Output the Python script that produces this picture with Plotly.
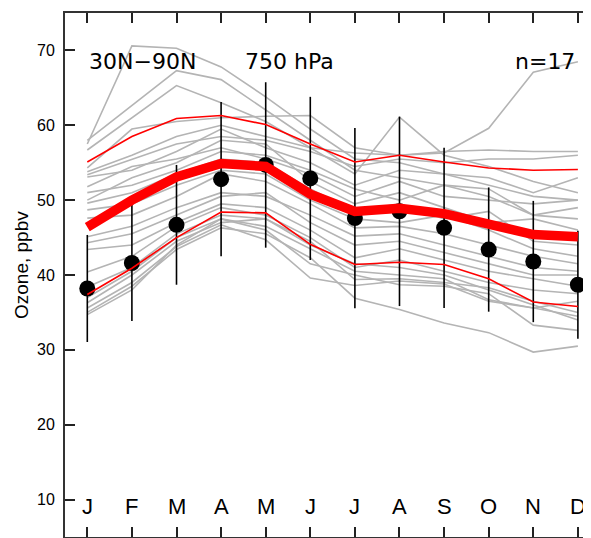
import plotly.graph_objects as go

months = ["J", "F", "M", "A", "M", "J", "J", "A", "S", "O", "N", "D"]
month_idx = list(range(12))

# observed climatology (black dots) and its spread (vertical bars)
obs_mean = [38.2, 41.6, 46.7, 52.8, 54.7, 52.9, 47.6, 48.5, 46.3, 43.4, 41.8, 38.7]
obs_sd = [7.15, 7.75, 8.0, 10.3, 11.05, 10.9, 12.05, 12.65, 10.7, 8.3, 8.1, 7.2]

# model ensemble mean (thick red) and range (thin red)
model_mean = [46.4, 50.0, 53.1, 54.9, 54.5, 50.8, 48.5, 48.9, 48.2, 46.9, 45.4, 45.1]
model_upper = [55.1, 58.5, 60.9, 61.3, 60.1, 57.5, 55.1, 56.0, 55.1, 54.3, 54.0, 54.1]
model_lower = [37.4, 40.9, 45.0, 48.4, 48.3, 44.1, 41.4, 41.7, 41.4, 39.5, 36.4, 35.8]

# individual curves (grey)
model_01 = [57.5, 70.6, 70.3, 67.8, 63.8, 59.5, 55.5, 55.0, 53.5, 52.0, 50.5, 50.0]
model_02 = [58.0, 62.7, 67.3, 66.1, 62.0, 58.0, 54.0, 53.0, 52.0, 50.5, 48.0, 47.5]
model_03 = [56.7, 61.0, 65.3, 63.0, 60.5, 57.0, 53.5, 61.1, 56.0, 54.5, 52.5, 51.0]
model_04 = [54.3, 59.5, 60.5, 61.0, 61.2, 61.3, 57.0, 56.0, 56.3, 59.6, 67.1, 68.5]
model_05 = [53.8, 56.0, 58.5, 60.0, 58.5, 57.0, 56.3, 56.0, 56.5, 56.7, 56.5, 56.5]
model_06 = [53.4, 55.5, 57.5, 58.5, 58.0, 56.5, 54.5, 55.5, 55.0, 55.5, 55.5, 56.0]
model_07 = [53.1, 54.0, 56.5, 59.5, 57.0, 55.0, 52.0, 54.0, 53.5, 53.0, 51.0, 53.0]
model_08 = [51.8, 54.5, 55.5, 57.0, 55.5, 53.5, 50.5, 52.5, 50.5, 50.0, 49.5, 50.0]
model_09 = [51.0, 52.0, 54.0, 56.5, 56.0, 54.0, 51.5, 50.0, 52.0, 51.5, 48.0, 49.0]
model_10 = [50.0, 53.0, 55.0, 58.0, 57.5, 52.5, 49.5, 51.0, 49.0, 47.0, 47.5, 46.0]
model_11 = [49.6, 51.0, 53.5, 55.5, 55.0, 51.5, 48.5, 49.5, 47.5, 48.5, 44.5, 44.0]
model_12 = [48.7, 49.5, 52.0, 54.0, 53.5, 50.0, 47.5, 47.0, 48.0, 46.0, 43.5, 42.5]
model_13 = [47.6, 48.0, 50.5, 53.5, 52.5, 49.5, 46.3, 46.5, 45.5, 44.0, 42.5, 41.5]
model_14 = [45.1, 46.5, 49.0, 51.0, 50.5, 48.0, 45.2, 45.5, 44.0, 42.5, 41.0, 40.5]
model_15 = [44.3, 45.5, 48.0, 50.5, 51.0, 47.0, 44.0, 44.5, 43.0, 41.5, 40.0, 40.0]
model_16 = [43.4, 44.0, 47.0, 49.5, 49.0, 46.0, 42.3, 43.5, 42.0, 40.5, 39.5, 38.5]
model_17 = [40.4, 42.5, 46.5, 49.0, 48.0, 45.0, 41.0, 42.0, 40.5, 39.0, 38.0, 37.5]
model_18 = [38.4, 41.0, 45.5, 48.0, 47.5, 44.5, 39.4, 39.5, 39.0, 38.3, 36.5, 35.0]
model_19 = [37.0, 40.5, 45.0, 47.5, 46.5, 43.5, 40.5, 40.0, 39.5, 36.7, 35.6, 34.5]
model_20 = [36.3, 40.0, 44.5, 47.0, 47.5, 44.0, 41.5, 41.0, 40.0, 38.0, 36.0, 34.0]
model_21 = [35.6, 39.0, 43.8, 46.7, 44.7, 39.6, 38.6, 39.2, 38.8, 36.5, 35.6, 36.5]
model_22 = [35.0, 38.5, 43.4, 46.3, 45.5, 42.3, 36.9, 35.4, 33.6, 32.3, 29.7, 30.5]
model_23 = [34.7, 38.0, 44.0, 47.5, 46.0, 41.5, 40.0, 38.7, 38.5, 37.5, 33.3, 32.6]

grey_curves = [model_01, model_02, model_03, model_04, model_05, model_06,
               model_07, model_08, model_09, model_10, model_11, model_12,
               model_13, model_14, model_15, model_16, model_17, model_18,
               model_19, model_20, model_21, model_22, model_23]

y_ticks = [10, 20, 30, 40, 50, 60, 70]

fig = go.Figure()

for curve in grey_curves:
    fig.add_trace(go.Scatter(x=month_idx, y=curve, mode="lines",
                             line=dict(color="#b4b4b4", width=1.6),
                             hoverinfo="skip", showlegend=False))

fig.add_trace(go.Scatter(x=month_idx, y=obs_mean, mode="markers",
                         marker=dict(color="black", size=16),
                         error_y=dict(type="data", array=obs_sd, visible=True,
                                      color="black", thickness=1.6, width=0),
                         showlegend=False))

for band in (model_upper, model_lower):
    fig.add_trace(go.Scatter(x=month_idx, y=band, mode="lines",
                             line=dict(color="#ff0000", width=1.6),
                             showlegend=False))

fig.add_trace(go.Scatter(x=month_idx, y=model_mean, mode="lines",
                         line=dict(color="#ff0000", width=9.5),
                         showlegend=False))

# dummy trace for the right-hand tick axis
fig.add_trace(go.Scatter(x=[None], y=[None], yaxis="y2", showlegend=False,
                         hoverinfo="skip"))

ann = []
for i, m in enumerate(months):
    ann.append(dict(x=i, y=9.1, xref="x", yref="y", text=m, showarrow=False,
                    font=dict(family="Liberation Sans", size=22, color="black"),
                    xanchor="center", yanchor="middle"))

ann.append(dict(x=0, y=68.5, xref="x", yref="y", text="30N\u221290N",
                showarrow=False, xanchor="left", yanchor="middle",
                font=dict(family="DejaVu Sans", size=22, color="black")))
ann.append(dict(x=3.49, y=68.5, xref="x", yref="y", text="750 hPa",
                showarrow=False, xanchor="left", yanchor="middle",
                font=dict(family="DejaVu Sans", size=22, color="black")))
ann.append(dict(x=10.98, y=68.5, xref="x", yref="y", text="n=17",
                showarrow=False, xanchor="right", yanchor="middle",
                font=dict(family="DejaVu Sans", size=22, color="black")))
ann.append(dict(x=-0.0837, y=0.519, xref="paper", yref="paper",
                text="Ozone, ppbv", textangle=-90, showarrow=False,
                xanchor="center", yanchor="middle",
                font=dict(family="Liberation Sans", size=19, color="black")))

# the page body keeps an 8px margin, so the figure is 8px smaller than the window
fig.update_layout(
    width=583, height=530,
    margin=dict(l=57, r=0, t=5, b=1),
    paper_bgcolor="white", plot_bgcolor="white",
    annotations=ann,
    xaxis=dict(range=[-0.5, 11.294], tickvals=month_idx, showticklabels=False,
               ticks="inside", ticklen=10, tickwidth=1.5, tickcolor="#222",
               showline=True, linecolor="#333", linewidth=2, mirror="ticks",
               showgrid=False, zeroline=False),
    yaxis=dict(range=[5, 75], tickvals=y_ticks, ticks="inside", ticklen=10,
               tickwidth=1.5, tickcolor="#222", showline=True, linecolor="#333",
               linewidth=2, showgrid=False, zeroline=False, ticklabelstandoff=5,
               tickfont=dict(family="Liberation Sans", size=16, color="black")),
    yaxis2=dict(range=[5, 75], overlaying="y", side="right", tickvals=y_ticks,
                ticks="inside", ticklen=4, tickwidth=1.5, tickcolor="#222",
                showticklabels=False, showline=False, showgrid=False,
                zeroline=False),
)

fig.write_html("out.html")
